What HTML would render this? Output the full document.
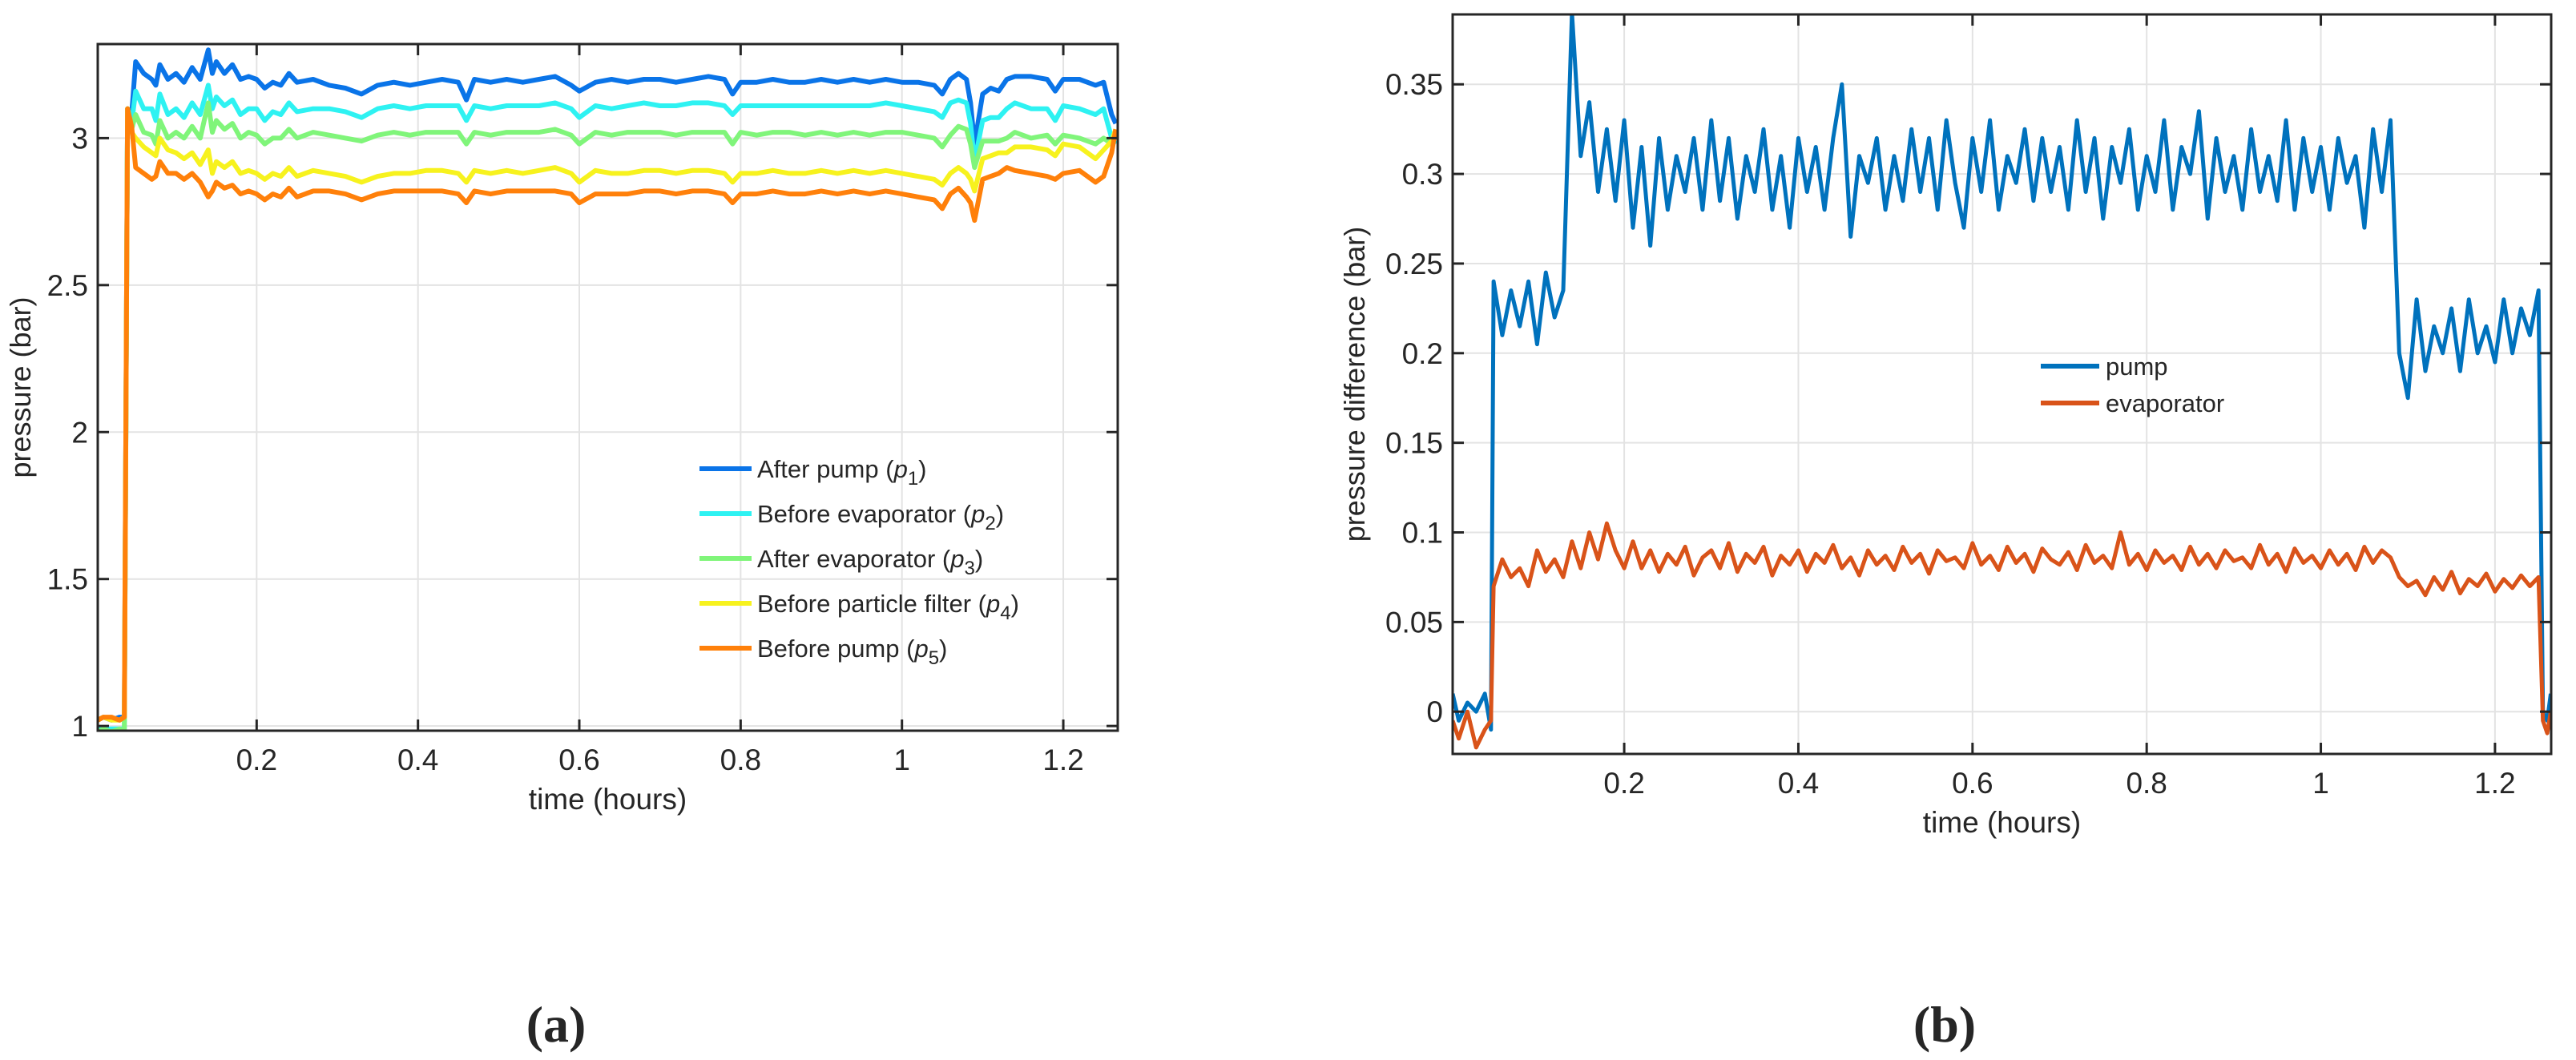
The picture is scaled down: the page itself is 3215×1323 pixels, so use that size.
<!DOCTYPE html>
<html><head><meta charset="utf-8"><style>
html,body{margin:0;padding:0;background:#fff;}
svg{display:block;}
text{font-family:"Liberation Sans Narrow","Liberation Sans",sans-serif;fill:#262626;}
</style></head><body>
<svg id="fig" width="3215" height="1323" viewBox="0 0 3215 1323" xmlns="http://www.w3.org/2000/svg">
<g id="chartA"></g>
<g id="chartB"></g>
<text x="694" y="1300" font-size="64" font-weight="bold" text-anchor="middle" style="font-family:'Liberation Serif',serif">(a)</text>
<text x="2427" y="1300" font-size="64" font-weight="bold" text-anchor="middle" style="font-family:'Liberation Serif',serif">(b)</text>
</svg>
<script>
// ---- Chart A data ----
const timeA = [0.003,0.01,0.02,0.03,0.036,0.04,0.045,0.05,0.06,0.07,0.075,0.08,0.09,0.1,0.11,0.12,0.13,0.14,0.145,0.15,0.16,0.17,0.18,0.19,0.2,0.21,0.22,0.23,0.24,0.25,0.27,0.29,0.31,0.33,0.35,0.37,0.39,0.41,0.43,0.45,0.46,0.47,0.49,0.51,0.53,0.55,0.57,0.59,0.6,0.62,0.64,0.66,0.68,0.7,0.72,0.74,0.76,0.78,0.79,0.8,0.82,0.84,0.86,0.88,0.9,0.92,0.94,0.96,0.98,1.0,1.02,1.04,1.05,1.06,1.07,1.08,1.085,1.09,1.1,1.11,1.12,1.13,1.14,1.16,1.18,1.19,1.2,1.22,1.24,1.25,1.26,1.265];
const p1 = [1.02,1.03,1.02,1.03,1.03, 3.1,3.08,3.26,3.22,3.2, 3.18,3.25,3.2,3.22,3.19, 3.24,3.2,3.3,3.22,3.26, 3.22,3.25,3.2,3.21,3.2, 3.17,3.19,3.18,3.22,3.19, 3.2,3.18,3.17,3.15,3.18, 3.19,3.18,3.19,3.2,3.19, 3.13,3.2,3.19,3.2,3.19, 3.2,3.21,3.18,3.16,3.19, 3.2,3.19,3.2,3.2,3.19, 3.2,3.21,3.2,3.15,3.19, 3.19,3.2,3.19,3.19,3.2, 3.19,3.2,3.19,3.2,3.19, 3.19,3.18,3.15,3.2,3.22, 3.2,3.12,2.98,3.15,3.17, 3.16,3.2,3.21,3.21,3.2, 3.16,3.2,3.2,3.18,3.19, 3.08,3.05];
const p2 = [0.99,0.99,0.99,0.99,0.99, 3.1,3.05,3.16,3.1,3.1, 3.06,3.15,3.08,3.1,3.07, 3.12,3.08,3.18,3.1,3.14, 3.11,3.13,3.08,3.1,3.1, 3.06,3.09,3.08,3.12,3.09, 3.1,3.1,3.09,3.07,3.1, 3.11,3.1,3.11,3.11,3.11, 3.06,3.11,3.1,3.11,3.11, 3.11,3.12,3.1,3.07,3.11, 3.1,3.11,3.12,3.11,3.11, 3.12,3.12,3.11,3.08,3.11, 3.11,3.11,3.11,3.11,3.11, 3.11,3.11,3.11,3.12,3.11, 3.1,3.09,3.07,3.12,3.13, 3.12,3.05,2.92,3.06,3.07, 3.07,3.1,3.12,3.1,3.1, 3.06,3.11,3.1,3.08,3.1, 3.0,2.98];
const p3 = [0.98,0.99,0.98,0.99,0.98, 3.1,3.03,3.08,3.02,3.01, 2.98,3.06,3.0,3.02,3.0, 3.04,3.0,3.12,3.02,3.06, 3.03,3.05,3.0,3.02,3.01, 2.98,3.0,3.0,3.03,3.0, 3.02,3.01,3.0,2.99,3.01, 3.02,3.01,3.02,3.02,3.02, 2.98,3.02,3.01,3.02,3.02, 3.02,3.03,3.01,2.98,3.02, 3.01,3.02,3.02,3.02,3.01, 3.02,3.02,3.02,2.98,3.02, 3.01,3.02,3.02,3.01,3.02, 3.01,3.02,3.01,3.02,3.02, 3.01,3.0,2.97,3.01,3.04, 3.03,2.98,2.9,2.99,2.99, 2.99,3.0,3.02,3.0,3.01, 2.98,3.01,3.0,2.98,3.0, 2.98,3.03];
const p4 = [1.02,1.03,1.02,1.02,1.03, 3.1,3.02,3.0,2.97,2.95, 2.94,3.0,2.96,2.95,2.93, 2.95,2.91,2.96,2.88,2.92, 2.9,2.92,2.88,2.89,2.88, 2.86,2.88,2.87,2.9,2.87, 2.89,2.88,2.87,2.85,2.87, 2.88,2.88,2.89,2.89,2.88, 2.85,2.89,2.88,2.89,2.88, 2.89,2.9,2.88,2.85,2.89, 2.88,2.88,2.89,2.89,2.88, 2.89,2.89,2.88,2.85,2.88, 2.88,2.89,2.88,2.88,2.89, 2.88,2.89,2.88,2.89,2.88, 2.87,2.86,2.84,2.88,2.9, 2.88,2.86,2.82,2.93,2.94, 2.95,2.95,2.97,2.97,2.96, 2.94,2.98,2.97,2.93,2.96, 2.99,3.03];
const p5 = [1.02,1.03,1.03,1.02,1.03, 3.1,3.04,2.9,2.88,2.86, 2.87,2.92,2.88,2.88,2.86, 2.88,2.85,2.8,2.82,2.85, 2.83,2.84,2.81,2.82,2.81, 2.79,2.81,2.8,2.83,2.8, 2.82,2.82,2.81,2.79,2.81, 2.82,2.82,2.82,2.82,2.81, 2.78,2.82,2.81,2.82,2.82, 2.82,2.82,2.81,2.78,2.81, 2.81,2.81,2.82,2.82,2.81, 2.82,2.82,2.81,2.78,2.81, 2.81,2.82,2.81,2.81,2.82, 2.81,2.82,2.81,2.82,2.81, 2.8,2.79,2.76,2.81,2.83, 2.8,2.78,2.72,2.86,2.87, 2.88,2.9,2.89,2.88,2.87, 2.86,2.88,2.89,2.85,2.87, 2.95,3.03];
const xTicksA = [0.2,0.4,0.6,0.8,1,1.2];
const xTickLabelsA = ["0.2","0.4","0.6","0.8","1","1.2"];
const yTicksA = [1,1.5,2,2.5,3];
const yTickLabelsA = ["1","1.5","2","2.5","3"];
const seriesNamesA = ["After pump (","Before evaporator (","After evaporator (","Before particle filter (","Before pump ("];
const seriesSubsA = ["1","2","3","4","5"];

// ---- Chart B data ----
const timeB = [0.003,0.01,0.02,0.03,0.04,0.047,
0.05,0.06,0.07,0.08,0.09,0.1,0.11,0.12,0.13,
0.14,0.15,0.16,0.17,0.18,0.19,0.2,
0.21,0.22,0.23,0.24,0.25,0.26,0.27,0.28,0.29,0.3,
0.31,0.32,0.33,0.34,0.35,0.36,0.37,0.38,0.39,0.4,
0.41,0.42,0.43,0.44,0.45,0.46,0.47,0.48,0.49,0.5,
0.51,0.52,0.53,0.54,0.55,0.56,0.57,0.58,0.59,0.6,
0.61,0.62,0.63,0.64,0.65,0.66,0.67,0.68,0.69,0.7,
0.71,0.72,0.73,0.74,0.75,0.76,0.77,0.78,0.79,0.8,
0.81,0.82,0.83,0.84,0.85,0.86,0.87,0.88,0.89,0.9,
0.91,0.92,0.93,0.94,0.95,0.96,0.97,0.98,0.99,1.0,
1.01,1.02,1.03,1.04,1.05,1.06,1.07,1.08,
1.09,1.1,1.11,1.12,1.13,1.14,1.15,1.16,1.17,1.18,1.19,1.2,1.21,1.22,1.23,1.24,1.25,
1.255,1.26,1.264];
const pump = [0.01,-0.005,0.005,0.0,0.01,-0.01,
0.24,0.21,0.235,0.215,0.24,0.205,0.245,0.22,0.235,
0.39,0.31,0.34,0.29,0.325,0.285,0.33,
0.27,0.315,0.26,0.32,0.28,0.31,0.29,0.32,0.28,0.33,
0.285,0.32,0.275,0.31,0.29,0.325,0.28,0.31,0.27,0.32,
0.29,0.315,0.28,0.32,0.35,0.265,0.31,0.295,0.32,0.28,
0.31,0.285,0.325,0.29,0.32,0.28,0.33,0.295,0.27,0.32,
0.29,0.33,0.28,0.31,0.295,0.325,0.285,0.32,0.29,0.315,
0.28,0.33,0.29,0.32,0.275,0.315,0.295,0.325,0.28,0.31,
0.29,0.33,0.28,0.315,0.3,0.335,0.275,0.32,0.29,0.31,
0.28,0.325,0.29,0.31,0.285,0.33,0.28,0.32,0.29,0.315,
0.28,0.32,0.295,0.31,0.27,0.325,0.29,0.33,
0.2,0.175,0.23,0.19,0.215,0.2,0.225,0.19,0.23,0.2,0.215,0.195,0.23,0.2,0.225,0.21,0.235,
0.0,-0.005,0.01];
const evaporator = [-0.005,-0.015,0.0,-0.02,-0.01,-0.005,
0.07,0.085,0.075,0.08,0.07,0.09,0.078,0.085,0.075,
0.095,0.08,0.1,0.085,0.105,0.09,0.08,
0.095,0.08,0.09,0.078,0.088,0.082,0.092,0.076,0.086,0.09,
0.08,0.094,0.078,0.088,0.083,0.092,0.076,0.087,0.082,0.09,
0.078,0.088,0.083,0.093,0.08,0.086,0.076,0.09,0.082,0.087,
0.079,0.092,0.083,0.088,0.077,0.09,0.084,0.086,0.08,0.094,
0.082,0.087,0.079,0.092,0.083,0.088,0.078,0.091,0.085,0.082,
0.089,0.079,0.093,0.083,0.087,0.08,0.1,0.082,0.088,0.079,
0.09,0.083,0.087,0.079,0.092,0.082,0.088,0.08,0.09,0.084,
0.086,0.08,0.093,0.082,0.088,0.078,0.091,0.083,0.087,0.08,
0.09,0.082,0.088,0.079,0.092,0.083,0.09,0.086,
0.075,0.07,0.073,0.065,0.075,0.068,0.078,0.066,0.074,0.07,0.077,0.067,0.074,0.069,0.076,0.07,0.075,
-0.005,-0.012,0.0];
const xTicksB = [0.2,0.4,0.6,0.8,1,1.2];
const xTickLabelsB = ["0.2","0.4","0.6","0.8","1","1.2"];
const yTicksB = [0,0.05,0.1,0.15,0.2,0.25,0.3,0.35];
const yTickLabelsB = ["0","0.05","0.1","0.15","0.2","0.25","0.3","0.35"];
const seriesNamesB = ["pump","evaporator"];

const NS = "http://www.w3.org/2000/svg";
function mk(parent, tag, attrs, txt){
  const e = document.createElementNS(NS, tag);
  for (const k in attrs) e.setAttribute(k, attrs[k]);
  if (txt !== undefined) e.textContent = txt;
  parent.appendChild(e);
  return e;
}

function drawAxes(g, box, xs, ys, xTicks, xLabels, yTicks, yLabels){
  xTicks.forEach(v => {
    const l = mk(g,'line',{x1:xs(v),x2:xs(v),y1:box.t,y2:box.b,stroke:'#e3e3e3','stroke-width':2});
    
    
  });
  yTicks.forEach(v => {
    const l = mk(g,'line',{x1:box.l,x2:box.r,y1:ys(v),y2:ys(v),stroke:'#e3e3e3','stroke-width':2});
    
    
  });
}
function drawFrame(g, box, xs, ys, xTicks, xLabels, yTicks, yLabels, xTitle, yTitle, yTitleX){
  const fr = mk(g,'rect',{x:box.l,y:box.t,width:box.r-box.l,height:box.b-box.t,fill:'none',stroke:'#262626','stroke-width':3});
  
  
  xTicks.forEach((v,i) => {
    const x = xs(v);
    mk(g,'line',{x1:x,x2:x,y1:box.b,y2:box.b-14,stroke:'#262626','stroke-width':3});
    mk(g,'line',{x1:x,x2:x,y1:box.t,y2:box.t+14,stroke:'#262626','stroke-width':3});
    const t = mk(g,'text',{x:x,y:box.b+49,'font-size':37,'text-anchor':'middle'},xLabels[i]);
    
    
  });
  yTicks.forEach((v,i) => {
    const y = ys(v);
    mk(g,'line',{x1:box.l,x2:box.l+14,y1:y,y2:y,stroke:'#262626','stroke-width':3});
    mk(g,'line',{x1:box.r,x2:box.r-14,y1:y,y2:y,stroke:'#262626','stroke-width':3});
    const t = mk(g,'text',{x:box.l-12,y:y+13,'font-size':37,'text-anchor':'end'},yLabels[i]);
    
    
  });
  const xt = mk(g,'text',{x:(box.l+box.r)/2,y:box.b+98,'font-size':37,'text-anchor':'middle'},xTitle);
  
  
  const cy = (box.t+box.b)/2;
  const yt = mk(g,'text',{x:yTitleX,y:cy,'font-size':36,'text-anchor':'middle',transform:`rotate(-90 ${yTitleX} ${cy})`,style:"font-family:'Liberation Sans',sans-serif"},yTitle);
  
  
}
function drawLine(g, xsArr, ysArr, xs, ys, color, w, name){
  let d = '';
  for (let i=0;i<xsArr.length;i++) d += (i?'L':'M') + xs(xsArr[i]).toFixed(1) + ',' + ys(ysArr[i]).toFixed(1);
  const p = mk(g,'path',{d:d,fill:'none',stroke:color,'stroke-width':w,'stroke-linejoin':'round'});
  
  
  return p;
}

// ---- Chart A ----
(function(){
  const g = document.getElementById('chartA');
  const box = {l:122,r:1395,t:55,b:912};
  const xMin=0.003, xMax=1.2675, yMin=0.984, yMax=3.32;
  const xs = v => box.l + (v-xMin)/(xMax-xMin)*(box.r-box.l);
  const ys = v => box.b - (v-yMin)/(yMax-yMin)*(box.b-box.t);
  drawAxes(g, box, xs, ys, xTicksA, xTickLabelsA, yTicksA, yTickLabelsA);
  const clip = mk(g,'clipPath',{id:'clipA'});
  mk(clip,'rect',{x:box.l,y:box.t,width:box.r-box.l,height:box.b-box.t});
  const lg = mk(g,'g',{'clip-path':'url(#clipA)'});
  
  
  const colors = ['#0a74e8','#2ef2f2','#80f57a','#f7f21e','#ff800a'];
  const series = [p1,p2,p3,p4,p5];
  const names = ['series-p1','series-p2','series-p3','series-p4','series-p5'];
  series.forEach((s,i)=>drawLine(lg,timeA,s,xs,ys,colors[i],6,names[i]));
  drawFrame(g, box, xs, ys, xTicksA, xTickLabelsA, yTicksA, yTickLabelsA, 'time (hours)', 'pressure (bar)', 38);
  const rows = [585,641,697,753,809];
  seriesNamesA.forEach((n,i)=>{
    const e = mk(g,'g',{});
    
    
    mk(e,'line',{x1:873,x2:938,y1:rows[i],y2:rows[i],stroke:colors[i],'stroke-width':6});
    const t = mk(e,'text',{x:945,y:rows[i]+11,'font-size':31});
    t.appendChild(document.createTextNode(n));
    mk(t,'tspan',{'font-style':'italic'},'p');
    mk(t,'tspan',{dy:9,'font-size':24},seriesSubsA[i]);
    mk(t,'tspan',{dy:-9},')');
  });
})();

// ---- Chart B ----
(function(){
  const g = document.getElementById('chartB');
  const box = {l:1813,r:3184,t:18,b:941};
  const xMin=0.003, xMax=1.2645, yMin=-0.0236, yMax=0.389;
  const xs = v => box.l + (v-xMin)/(xMax-xMin)*(box.r-box.l);
  const ys = v => box.b - (v-yMin)/(yMax-yMin)*(box.b-box.t);
  drawAxes(g, box, xs, ys, xTicksB, xTickLabelsB, yTicksB, yTickLabelsB);
  const clip = mk(g,'clipPath',{id:'clipB'});
  mk(clip,'rect',{x:box.l,y:box.t,width:box.r-box.l,height:box.b-box.t});
  const lg = mk(g,'g',{'clip-path':'url(#clipB)'});
  
  
  const colors = ['#0072BD','#D95319'];
  drawLine(lg,timeB,pump,xs,ys,colors[0],5,'series-pump');
  drawLine(lg,timeB,evaporator,xs,ys,colors[1],5,'series-evaporator');
  drawFrame(g, box, xs, ys, xTicksB, xTickLabelsB, yTicksB, yTickLabelsB, 'time (hours)', 'pressure difference (bar)', 1703);
  const rows = [457,503];
  seriesNamesB.forEach((n,i)=>{
    const e = mk(g,'g',{});
    
    
    mk(e,'line',{x1:2547,x2:2620,y1:rows[i],y2:rows[i],stroke:colors[i],'stroke-width':6});
    mk(e,'text',{x:2628,y:rows[i]+11,'font-size':31},n);
  });
})();
</script>
</body></html>
